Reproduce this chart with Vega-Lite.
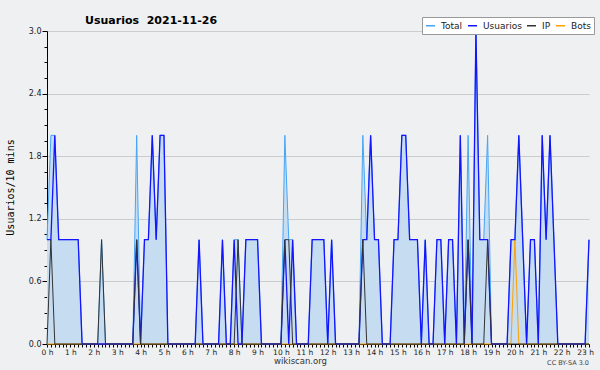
{
  "$schema": "https://vega.github.io/schema/vega-lite/v6.json",
  "width": 542,
  "height": 313,
  "autosize": {"type": "none"},
  "padding": {"left": 47, "top": 31, "right": 11, "bottom": 26},
  "background": "#eff0f1",
  "title": {
    "text": "Usuarios\u00a0\u00a02021-11-26",
    "anchor": "start",
    "frame": "group",
    "dx": 38,
    "dy": 17,
    "offset": 8,
    "font": "DejaVu Sans",
    "fontSize": 11,
    "fontWeight": "bold",
    "color": "#000000"
  },
  "config": {
    "view": {"stroke": null},
    "axis": {
      "domainColor": "#000000",
      "tickColor": "#000000",
      "labelColor": "#222222",
      "labelFont": "DejaVu Sans",
      "titleFont": "DejaVu Sans",
      "titleFontWeight": "normal",
      "titleColor": "#000000",
      "zindex": 1,
      "labelFlush": false,
      "labelOverlap": false
    }
  },
  "data": {
    "values": [
      {"m": 0, "T": 1, "U": 1, "I": 0, "B": 0},
      {"m": 10, "T": 2, "U": 1, "I": 1, "B": 0},
      {"m": 20, "T": 2, "U": 2, "I": 0, "B": 0},
      {"m": 30, "T": 1, "U": 1, "I": 0, "B": 0},
      {"m": 40, "T": 1, "U": 1, "I": 0, "B": 0},
      {"m": 50, "T": 1, "U": 1, "I": 0, "B": 0},
      {"m": 60, "T": 1, "U": 1, "I": 0, "B": 0},
      {"m": 70, "T": 1, "U": 1, "I": 0, "B": 0},
      {"m": 80, "T": 1, "U": 1, "I": 0, "B": 0},
      {"m": 90, "T": 0, "U": 0, "I": 0, "B": 0},
      {"m": 100, "T": 0, "U": 0, "I": 0, "B": 0},
      {"m": 110, "T": 0, "U": 0, "I": 0, "B": 0},
      {"m": 120, "T": 0, "U": 0, "I": 0, "B": 0},
      {"m": 130, "T": 0, "U": 0, "I": 0, "B": 0},
      {"m": 140, "T": 1, "U": 0, "I": 1, "B": 0},
      {"m": 150, "T": 0, "U": 0, "I": 0, "B": 0},
      {"m": 160, "T": 0, "U": 0, "I": 0, "B": 0},
      {"m": 170, "T": 0, "U": 0, "I": 0, "B": 0},
      {"m": 180, "T": 0, "U": 0, "I": 0, "B": 0},
      {"m": 190, "T": 0, "U": 0, "I": 0, "B": 0},
      {"m": 200, "T": 0, "U": 0, "I": 0, "B": 0},
      {"m": 210, "T": 0, "U": 0, "I": 0, "B": 0},
      {"m": 220, "T": 0, "U": 0, "I": 0, "B": 0},
      {"m": 230, "T": 2, "U": 1, "I": 1, "B": 0},
      {"m": 240, "T": 0, "U": 0, "I": 0, "B": 0},
      {"m": 250, "T": 1, "U": 1, "I": 0, "B": 0},
      {"m": 260, "T": 1, "U": 1, "I": 0, "B": 0},
      {"m": 270, "T": 2, "U": 2, "I": 0, "B": 0},
      {"m": 280, "T": 1, "U": 1, "I": 0, "B": 0},
      {"m": 290, "T": 2, "U": 2, "I": 0, "B": 0},
      {"m": 300, "T": 2, "U": 2, "I": 0, "B": 0},
      {"m": 310, "T": 0, "U": 0, "I": 0, "B": 0},
      {"m": 320, "T": 0, "U": 0, "I": 0, "B": 0},
      {"m": 330, "T": 0, "U": 0, "I": 0, "B": 0},
      {"m": 340, "T": 0, "U": 0, "I": 0, "B": 0},
      {"m": 350, "T": 0, "U": 0, "I": 0, "B": 0},
      {"m": 360, "T": 0, "U": 0, "I": 0, "B": 0},
      {"m": 370, "T": 0, "U": 0, "I": 0, "B": 0},
      {"m": 380, "T": 0, "U": 0, "I": 0, "B": 0},
      {"m": 390, "T": 1, "U": 1, "I": 0, "B": 0},
      {"m": 400, "T": 0, "U": 0, "I": 0, "B": 0},
      {"m": 410, "T": 0, "U": 0, "I": 0, "B": 0},
      {"m": 420, "T": 0, "U": 0, "I": 0, "B": 0},
      {"m": 430, "T": 0, "U": 0, "I": 0, "B": 0},
      {"m": 440, "T": 0, "U": 0, "I": 0, "B": 0},
      {"m": 450, "T": 1, "U": 1, "I": 0, "B": 0},
      {"m": 460, "T": 0, "U": 0, "I": 0, "B": 0},
      {"m": 470, "T": 0, "U": 0, "I": 0, "B": 0},
      {"m": 480, "T": 1, "U": 1, "I": 0, "B": 0},
      {"m": 490, "T": 1, "U": 0, "I": 1, "B": 0},
      {"m": 500, "T": 0, "U": 0, "I": 0, "B": 0},
      {"m": 510, "T": 1, "U": 1, "I": 0, "B": 0},
      {"m": 520, "T": 1, "U": 1, "I": 0, "B": 0},
      {"m": 530, "T": 1, "U": 1, "I": 0, "B": 0},
      {"m": 540, "T": 1, "U": 1, "I": 0, "B": 0},
      {"m": 550, "T": 0, "U": 0, "I": 0, "B": 0},
      {"m": 560, "T": 0, "U": 0, "I": 0, "B": 0},
      {"m": 570, "T": 0, "U": 0, "I": 0, "B": 0},
      {"m": 580, "T": 0, "U": 0, "I": 0, "B": 0},
      {"m": 590, "T": 0, "U": 0, "I": 0, "B": 0},
      {"m": 600, "T": 0, "U": 0, "I": 0, "B": 0},
      {"m": 610, "T": 2, "U": 1, "I": 1, "B": 0},
      {"m": 620, "T": 1, "U": 0, "I": 1, "B": 0},
      {"m": 630, "T": 1, "U": 1, "I": 0, "B": 0},
      {"m": 640, "T": 0, "U": 0, "I": 0, "B": 0},
      {"m": 650, "T": 0, "U": 0, "I": 0, "B": 0},
      {"m": 660, "T": 0, "U": 0, "I": 0, "B": 0},
      {"m": 670, "T": 0, "U": 0, "I": 0, "B": 0},
      {"m": 680, "T": 1, "U": 1, "I": 0, "B": 0},
      {"m": 690, "T": 1, "U": 1, "I": 0, "B": 0},
      {"m": 700, "T": 1, "U": 1, "I": 0, "B": 0},
      {"m": 710, "T": 1, "U": 1, "I": 0, "B": 0},
      {"m": 720, "T": 0, "U": 0, "I": 0, "B": 0},
      {"m": 730, "T": 1, "U": 1, "I": 0, "B": 0},
      {"m": 740, "T": 0, "U": 0, "I": 0, "B": 0},
      {"m": 750, "T": 0, "U": 0, "I": 0, "B": 0},
      {"m": 760, "T": 0, "U": 0, "I": 0, "B": 0},
      {"m": 770, "T": 0, "U": 0, "I": 0, "B": 0},
      {"m": 780, "T": 0, "U": 0, "I": 0, "B": 0},
      {"m": 790, "T": 0, "U": 0, "I": 0, "B": 0},
      {"m": 800, "T": 0, "U": 0, "I": 0, "B": 0},
      {"m": 810, "T": 2, "U": 1, "I": 1, "B": 0},
      {"m": 820, "T": 1, "U": 1, "I": 0, "B": 0},
      {"m": 830, "T": 2, "U": 2, "I": 0, "B": 0},
      {"m": 840, "T": 1, "U": 1, "I": 0, "B": 0},
      {"m": 850, "T": 1, "U": 1, "I": 0, "B": 0},
      {"m": 860, "T": 0, "U": 0, "I": 0, "B": 0},
      {"m": 870, "T": 0, "U": 0, "I": 0, "B": 0},
      {"m": 880, "T": 0, "U": 0, "I": 0, "B": 0},
      {"m": 890, "T": 1, "U": 1, "I": 0, "B": 0},
      {"m": 900, "T": 1, "U": 1, "I": 0, "B": 0},
      {"m": 910, "T": 2, "U": 2, "I": 0, "B": 0},
      {"m": 920, "T": 2, "U": 2, "I": 0, "B": 0},
      {"m": 930, "T": 1, "U": 1, "I": 0, "B": 0},
      {"m": 940, "T": 1, "U": 1, "I": 0, "B": 0},
      {"m": 950, "T": 1, "U": 1, "I": 0, "B": 0},
      {"m": 960, "T": 0, "U": 0, "I": 0, "B": 0},
      {"m": 970, "T": 1, "U": 1, "I": 0, "B": 0},
      {"m": 980, "T": 0, "U": 0, "I": 0, "B": 0},
      {"m": 990, "T": 0, "U": 0, "I": 0, "B": 0},
      {"m": 1000, "T": 1, "U": 1, "I": 0, "B": 0},
      {"m": 1010, "T": 1, "U": 1, "I": 0, "B": 0},
      {"m": 1020, "T": 0, "U": 0, "I": 0, "B": 0},
      {"m": 1030, "T": 1, "U": 1, "I": 0, "B": 0},
      {"m": 1040, "T": 1, "U": 1, "I": 0, "B": 0},
      {"m": 1050, "T": 0, "U": 0, "I": 0, "B": 0},
      {"m": 1060, "T": 2, "U": 2, "I": 0, "B": 0},
      {"m": 1070, "T": 0, "U": 0, "I": 0, "B": 0},
      {"m": 1080, "T": 2, "U": 1, "I": 1, "B": 0},
      {"m": 1090, "T": 0, "U": 0, "I": 0, "B": 0},
      {"m": 1100, "T": 3, "U": 3, "I": 0, "B": 0},
      {"m": 1110, "T": 1, "U": 1, "I": 0, "B": 0},
      {"m": 1120, "T": 1, "U": 1, "I": 0, "B": 0},
      {"m": 1130, "T": 2, "U": 1, "I": 1, "B": 0},
      {"m": 1140, "T": 0, "U": 0, "I": 0, "B": 0},
      {"m": 1150, "T": 0, "U": 0, "I": 0, "B": 0},
      {"m": 1160, "T": 0, "U": 0, "I": 0, "B": 0},
      {"m": 1170, "T": 0, "U": 0, "I": 0, "B": 0},
      {"m": 1180, "T": 0, "U": 0, "I": 0, "B": 0},
      {"m": 1190, "T": 1, "U": 1, "I": 0, "B": 0},
      {"m": 1200, "T": 1, "U": 1, "I": 0, "B": 1},
      {"m": 1210, "T": 2, "U": 2, "I": 0, "B": 0},
      {"m": 1220, "T": 1, "U": 1, "I": 0, "B": 0},
      {"m": 1230, "T": 0, "U": 0, "I": 0, "B": 0},
      {"m": 1240, "T": 1, "U": 1, "I": 0, "B": 0},
      {"m": 1250, "T": 1, "U": 1, "I": 0, "B": 0},
      {"m": 1260, "T": 0, "U": 0, "I": 0, "B": 0},
      {"m": 1270, "T": 2, "U": 2, "I": 0, "B": 0},
      {"m": 1280, "T": 1, "U": 1, "I": 0, "B": 0},
      {"m": 1290, "T": 2, "U": 2, "I": 0, "B": 0},
      {"m": 1300, "T": 1, "U": 1, "I": 0, "B": 0},
      {"m": 1310, "T": 0, "U": 0, "I": 0, "B": 0},
      {"m": 1320, "T": 0, "U": 0, "I": 0, "B": 0},
      {"m": 1330, "T": 0, "U": 0, "I": 0, "B": 0},
      {"m": 1340, "T": 0, "U": 0, "I": 0, "B": 0},
      {"m": 1350, "T": 0, "U": 0, "I": 0, "B": 0},
      {"m": 1360, "T": 0, "U": 0, "I": 0, "B": 0},
      {"m": 1370, "T": 0, "U": 0, "I": 0, "B": 0},
      {"m": 1380, "T": 0, "U": 0, "I": 0, "B": 0},
      {"m": 1390, "T": 1, "U": 1, "I": 0, "B": 0}
    ]
  },
  "layer": [
    {
      "mark": {"type": "area", "color": "#c6dcf0", "opacity": 1},
      "encoding": {
        "x": {
          "field": "m",
          "type": "quantitative",
          "scale": {"domain": [0, 1390], "nice": false, "zero": false},
          "axis": {
            "title": "wikiscan.org",
            "titleFontSize": 8.5,
            "titleColor": "#333333",
            "titleX": 253,
            "titleY": 19,
            "titleAlign": "center",
            "titleBaseline": "alphabetic",
            "tickCount": 1000,
            "values": [0,10,20,30,40,50,60,70,80,90,100,110,120,130,140,150,160,170,180,190,200,210,220,230,240,250,260,270,280,290,300,310,320,330,340,350,360,370,380,390,400,410,420,430,440,450,460,470,480,490,500,510,520,530,540,550,560,570,580,590,600,610,620,630,640,650,660,670,680,690,700,710,720,730,740,750,760,770,780,790,800,810,820,830,840,850,860,870,880,890,900,910,920,930,940,950,960,970,980,990,1000,1010,1020,1030,1040,1050,1060,1070,1080,1090,1100,1110,1120,1130,1140,1150,1160,1170,1180,1190,1200,1210,1220,1230,1240,1250,1260,1270,1280,1290,1300,1310,1320,1330,1340,1350,1360,1370,1380,1390],
            "labelExpr": "datum.value % 60 === 0 ? (datum.value / 60) + ' h' : ''",
            "labelOverlap": false,
            "labelBound": false,
            "labelFontSize": 7.5,
            "labelPadding": 1,
            "tickSize": 3,
            "grid": false
          }
        },
        "y": {
          "field": "T",
          "type": "quantitative",
          "scale": {"domain": [0, 3], "nice": false},
          "axis": {
            "title": "Usuarios/10 mins",
            "titleFont": "DejaVu Sans Mono",
            "titleFontSize": 10,
            "titleAngle": 270,
            "titleX": -37,
            "titleY": 156,
            "titleAlign": "center",
            "titleBaseline": "middle",
            "tickCount": 1000,
            "values": [0,0.15,0.3,0.45,0.6,0.75,0.9,1.05,1.2,1.35,1.5,1.65,1.8,1.95,2.1,2.25,2.4,2.55,2.7,2.85,3.0],
            "labelExpr": "abs(datum.value / 0.6 - round(datum.value / 0.6)) < 0.01 ? format(datum.value, '.1f') : ''",
            "labelOverlap": false,
            "labelFontSize": 8,
            "labelPadding": 1,
            "tickSize": {"condition": {"test": "abs(datum.value / 0.6 - round(datum.value / 0.6)) < 0.01", "value": 5}, "value": 3},
            "grid": true,
            "gridColor": "#cccccc",
            "gridOpacity": {"condition": {"test": "abs(datum.value / 0.6 - round(datum.value / 0.6)) < 0.01 && datum.value > 0", "value": 1}, "value": 0}
          }
        }
      }
    },
    {
      "mark": {"type": "line", "strokeWidth": 1},
      "encoding": {
        "x": {"field": "m", "type": "quantitative"},
        "y": {"field": "T", "type": "quantitative", "title": "Usuarios/10 mins"},
        "color": {
          "datum": "Total",
          "scale": {"domain": ["Total", "Usuarios", "IP", "Bots"], "range": ["#45a5f7", "#1414ff", "#333333", "#ffa000"]},
          "legend": {
            "title": null,
            "orient": "none",
            "legendX": 375,
            "legendY": -14,
            "direction": "horizontal",
            "fillColor": "#ffffff",
            "strokeColor": "#999999",
            "padding": 3,
            "symbolType": "stroke",
            "symbolSize": 81,
            "symbolStrokeWidth": 1.5,
            "labelFont": "DejaVu Sans",
            "labelFontSize": 9,
            "labelColor": "#222222",
            "labelOffset": 5,
            "columnPadding": 2
          }
        }
      }
    },
    {
      "mark": {"type": "line", "strokeWidth": 1},
      "encoding": {
        "x": {"field": "m", "type": "quantitative"},
        "y": {"field": "B", "type": "quantitative", "title": "Usuarios/10 mins"},
        "color": {"datum": "Bots"}
      }
    },
    {
      "mark": {"type": "line", "strokeWidth": 1.3},
      "encoding": {
        "x": {"field": "m", "type": "quantitative"},
        "y": {"field": "U", "type": "quantitative", "title": "Usuarios/10 mins"},
        "color": {"datum": "Usuarios"}
      }
    },
    {
      "mark": {"type": "line", "strokeWidth": 1},
      "encoding": {
        "x": {"field": "m", "type": "quantitative"},
        "y": {"field": "I", "type": "quantitative", "title": "Usuarios/10 mins"},
        "color": {"datum": "IP"}
      }
    },
    {
      "data": {"values": [{"label": "CC BY-SA 3.0"}]},
      "mark": {"type": "text", "align": "right", "baseline": "alphabetic", "dy": 21, "font": "DejaVu Sans", "fontSize": 6.5, "color": "#444444"},
      "encoding": {
        "x": {"datum": 1390, "type": "quantitative"},
        "y": {"datum": 0, "type": "quantitative"},
        "text": {"field": "label"}
      }
    }
  ]
}
